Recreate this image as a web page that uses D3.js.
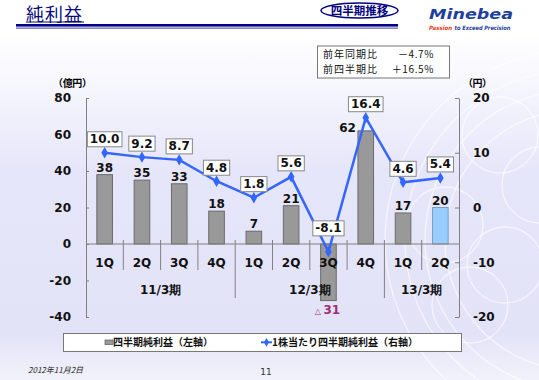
<!DOCTYPE html>
<html>
<head>
<meta charset="utf-8">
<script src="https://d3js.org/d3.v7.min.js"></script>
<style>
 body {margin:0; background:#fff;}
 text {font-family: "DejaVu Sans", Verdana, sans-serif;}
 .jp {font-family: "Noto Sans CJK JP", "DejaVu Sans", sans-serif;}
</style>
</head>
<body onload="init()">
<svg width="539" height="380"></svg>
<script>

// data
const quarters = ["1Q","2Q","3Q","4Q","1Q","2Q","3Q","4Q","1Q","2Q"];
const periods = ["11/3期","11/3期","11/3期","11/3期","12/3期","12/3期","12/3期","12/3期","13/3期","13/3期"];
const netIncome = [38, 35, 33, 18, 7, 21, -31, 62, 17, 20];   // 億円, left axis
const eps = [10.0, 9.2, 8.7, 4.8, 1.8, 5.6, -8.1, 16.4, 4.6, 5.4]; // 円, right axis
const leftTicks = [-40, -20, 0, 20, 40, 60, 80];
const rightTicks = [-20, -10, 0, 10, 20];
const notes = [["前年同期比", "－4.7%"], ["前四半期比", "＋16.5%"]];

function init() {
  const svg = d3.select("svg");

  // background
  const defs = svg.append("defs");
  const g = defs.append("linearGradient").attr("id", "bg").attr("x1", 0).attr("y1", 0).attr("x2", 0).attr("y2", 1);
  g.append("stop").attr("offset", "0%").attr("stop-color", "#ffffff");
  g.append("stop").attr("offset", "9%").attr("stop-color", "#ffffff");
  g.append("stop").attr("offset", "45%").attr("stop-color", "#e6e6fa");
  g.append("stop").attr("offset", "88%").attr("stop-color", "#e3e3f8");
  g.append("stop").attr("offset", "100%").attr("stop-color", "#f2f2fb");
  svg.append("rect").attr("width", 539).attr("height", 380).attr("fill", "url(#bg)");

  // faint decorative rings
  const deco = svg.append("g").attr("fill", "none").attr("stroke", "#fff").attr("stroke-opacity", 0.6);
  [130, 150, 170, 190].forEach(r => deco.append("circle").attr("cx", 575).attr("cy", 240).attr("r", r).attr("stroke-width", 1.3));
  [[500, 135], [540, 185], [505, 265], [445, 225], [470, 305]].forEach(c =>
    deco.append("circle").attr("cx", c[0]).attr("cy", c[1]).attr("r", 38).attr("stroke-width", 1.3));

  // header
  svg.append("text").attr("class", "jp").attr("x", 26).attr("y", 21)
    .attr("font-size", 18).attr("fill", "#0a0a78").attr("letter-spacing", 1).text("純利益");
  svg.append("line").attr("x1", 26).attr("x2", 84).attr("y1", 22).attr("y2", 22).attr("stroke", "#0a0a78").attr("stroke-width", 1);
  svg.append("rect").attr("x", 16).attr("y", 24).attr("width", 382).attr("height", 2.6).attr("fill", "#000088");
  svg.append("rect").attr("x", 16).attr("y", 27.6).attr("width", 382).attr("height", 1).attr("fill", "#3a3aa0");

  svg.append("rect").attr("x", 321).attr("y", 3).attr("width", 77).attr("height", 15).attr("rx", 38).attr("ry", 7.5)
    .attr("fill", "#fff").attr("stroke", "#000080").attr("stroke-width", 1.5);
  svg.append("text").attr("class", "jp").attr("x", 359.5).attr("y", 14.8).attr("text-anchor", "middle")
    .attr("font-size", 11.5).attr("font-weight", "bold").attr("fill", "#000080").text("四半期推移");

  svg.append("text").attr("x", 429).attr("y", 18.5).attr("font-size", 14).attr("font-weight", "bold")
    .attr("font-style", "italic").attr("fill", "#1f3f9c").attr("textLength", 84)
    .attr("lengthAdjust", "spacingAndGlyphs").text("Minebea");
  svg.append("text").attr("x", 429).attr("y", 29.5).attr("font-size", 6).attr("font-weight", "bold")
    .attr("font-style", "italic").attr("fill", "#e0401c").attr("textLength", 23)
    .attr("lengthAdjust", "spacingAndGlyphs").text("Passion");
  svg.append("text").attr("x", 454.5).attr("y", 29.5).attr("font-size", 6).attr("font-weight", "bold")
    .attr("font-style", "italic").attr("fill", "#1f3f9c").attr("textLength", 56)
    .attr("lengthAdjust", "spacingAndGlyphs").text("to Exceed Precision");

  // note box
  svg.append("rect").attr("x", 317.5).attr("y", 46).attr("width", 132).attr("height", 32)
    .attr("fill", "#fff").attr("stroke", "#777").attr("stroke-width", 1);
  notes.forEach((n, i) => {
    svg.append("text").attr("class", "jp").attr("x", 323).attr("y", 58.3 + i * 14.6)
      .attr("font-size", 10).attr("letter-spacing", 1).attr("fill", "#111").text(n[0]);
    svg.append("text").attr("class", "jp").attr("x", 434).attr("y", 58.3 + i * 14.6).attr("text-anchor", "end")
      .attr("font-size", 10).attr("letter-spacing", 0.6).attr("fill", "#111").text(n[1]);
  });

  // scales
  const x = d3.scaleBand().domain(d3.range(quarters.length)).range([86, 459]);
  const yL = d3.scaleLinear().domain([-40, 80]).range([317, 98]);
  const yR = d3.scaleLinear().domain([-20, 20]).range([317, 98]);
  const bw = 15.6;

  // axes
  const la = svg.append("g").attr("transform", "translate(86,0)")
    .call(d3.axisLeft(yL).tickValues(leftTicks).tickFormat(d => String(d)).tickSize(-3).tickSizeOuter(0).tickPadding(15));
  const ra = svg.append("g").attr("transform", "translate(459,0)")
    .call(d3.axisRight(yR).tickValues(rightTicks).tickFormat(d => String(d)).tickSize(-4).tickSizeOuter(0).tickPadding(14));
  [la, ra].forEach(a => {
    a.selectAll("path, line").attr("stroke", "#808080");
    a.selectAll("text").attr("font-size", 12).attr("font-weight", "bold").attr("fill", "#111")
      .attr("font-family", "DejaVu Sans");
  });

  svg.append("text").attr("class", "jp").attr("x", 53).attr("y", 87).attr("font-size", 10).attr("font-weight", "bold")
    .attr("textLength", 39).attr("lengthAdjust", "spacing").text("（億円）");
  svg.append("text").attr("class", "jp").attr("x", 463).attr("y", 87).attr("font-size", 10).attr("font-weight", "bold")
    .attr("textLength", 29).attr("lengthAdjust", "spacing").text("（円）");

  // bars
  svg.append("g").selectAll("rect").data(netIncome).enter().append("rect")
    .attr("x", (d, i) => x(i) + x.bandwidth() / 2 - bw / 2)
    .attr("y", d => yL(Math.max(d, 0)))
    .attr("width", bw)
    .attr("height", d => Math.abs(yL(d) - yL(0)))
    .attr("fill", (d, i) => i === netIncome.length - 1 ? "#99ccff" : "#999999")
    .attr("stroke", (d, i) => i === netIncome.length - 1 ? "#7a9cc0" : "#6a6a6a")
    .attr("stroke-width", 1);

  // category axis
  svg.append("line").attr("x1", 86).attr("x2", 459).attr("y1", yL(0)).attr("y2", yL(0)).attr("stroke", "#808080");
  d3.range(1, quarters.length).forEach(i => {
    const major = periods[i] !== periods[i - 1];
    svg.append("line").attr("x1", x(i)).attr("x2", x(i)).attr("y1", yL(0) - 4).attr("y2", major ? 298 : 270)
      .attr("stroke", "#808080");
  });
  svg.append("g").selectAll("text").data(quarters).enter().append("text")
    .attr("x", (d, i) => x(i) + x.bandwidth() / 2).attr("y", 267)
    .attr("text-anchor", "middle").attr("font-size", 12).attr("font-weight", "bold").attr("fill", "#111").text(d => d);
  const groups = [];
  periods.forEach((p, i) => {
    if (!groups.length || groups[groups.length - 1].name !== p) groups.push({name: p, first: i, last: i});
    else groups[groups.length - 1].last = i;
  });
  svg.append("g").selectAll("text").data(groups).enter().append("text")
    .attr("x", d => (x(d.first) + x(d.last) + x.bandwidth()) / 2).attr("y", 294)
    .attr("text-anchor", "middle").attr("font-size", 12).attr("font-weight", "bold").attr("fill", "#111").text(d => d.name);

  // bar labels
  netIncome.forEach((d, i) => {
    const cx = x(i) + x.bandwidth() / 2;
    if (d < 0) {
      const t = svg.append("text").attr("x", cx - 1).attr("y", yL(d) + 13).attr("text-anchor", "middle")
        .attr("font-size", 12).attr("font-weight", "bold").attr("fill", "#a03070");
      t.append("tspan").attr("font-size", 8).attr("font-weight", "normal").text("△ ");
      t.append("tspan").text(Math.abs(d));
    } else if (d > 50) {
      svg.append("text").attr("x", cx - bw / 2 - 2).attr("y", yL(d) + 1).attr("text-anchor", "end")
        .attr("font-size", 12).attr("font-weight", "bold").attr("fill", "#111").text(d);
    } else {
      svg.append("text").attr("x", cx).attr("y", yL(d) - 3).attr("text-anchor", "middle")
        .attr("font-size", 12).attr("font-weight", "bold").attr("fill", "#111").text(d);
    }
  });

  // EPS line
  const line = d3.line().x((d, i) => x(i) + x.bandwidth() / 2).y(d => yR(d));
  svg.append("path").datum(eps).attr("d", line).attr("fill", "none").attr("stroke", "#3366ff").attr("stroke-width", 2.5);
  svg.append("g").selectAll("path").data(eps).enter().append("path")
    .attr("d", d3.symbol().type(d3.symbolDiamond).size(38))
    .attr("transform", (d, i) => "translate(" + (x(i) + x.bandwidth() / 2) + "," + yR(d) + ")")
    .attr("fill", "#3366ff");

  eps.forEach((d, i) => {
    const cx = x(i) + x.bandwidth() / 2;
    const bottom = yR(d) - (d < 0 ? 16 : 6);
    const lbl = svg.append("g");
    const r = lbl.append("rect");
    const t = lbl.append("text").attr("x", cx).attr("y", bottom - 3.5).attr("text-anchor", "middle")
      .attr("font-size", 12).attr("font-weight", "bold").attr("fill", "#111").text(d.toFixed(1));
    const w = t.node().getComputedTextLength() + 5;
    r.attr("x", cx - w / 2).attr("y", bottom - 15).attr("width", w).attr("height", 15)
      .attr("fill", "#fff").attr("stroke", "#888").attr("stroke-width", 1);
  });

  // legend
  svg.append("rect").attr("x", 63.5).attr("y", 333.5).attr("width", 398).attr("height", 18)
    .attr("fill", "#fff").attr("stroke", "#777");
  svg.append("rect").attr("x", 105).attr("y", 340).attr("width", 8).attr("height", 4.5)
    .attr("fill", "#999").attr("stroke", "#666").attr("stroke-width", 0.8);
  svg.append("text").attr("class", "jp").attr("x", 113).attr("y", 346).attr("font-size", 10).attr("font-weight", "bold")
    .attr("fill", "#111").text("四半期純利益（左軸）");
  svg.append("line").attr("x1", 261).attr("x2", 272).attr("y1", 342.3).attr("y2", 342.3).attr("stroke", "#3366ff").attr("stroke-width", 2);
  svg.append("path").attr("d", d3.symbol().type(d3.symbolDiamond).size(22)).attr("transform", "translate(266.5,342.3)").attr("fill", "#3366ff");
  svg.append("text").attr("class", "jp").attr("x", 272).attr("y", 346).attr("font-size", 10).attr("font-weight", "bold")
    .attr("fill", "#111").text("1株当たり四半期純利益（右軸）");

  // footer
  svg.append("text").attr("class", "jp").attr("x", 28).attr("y", 373).attr("font-size", 8).attr("font-style", "italic")
    .attr("fill", "#222").text("2012年11月2日");
  svg.append("text").attr("x", 266).attr("y", 375).attr("text-anchor", "middle").attr("font-size", 9)
    .attr("fill", "#333").text("11");
}

</script>
</body>
</html>
